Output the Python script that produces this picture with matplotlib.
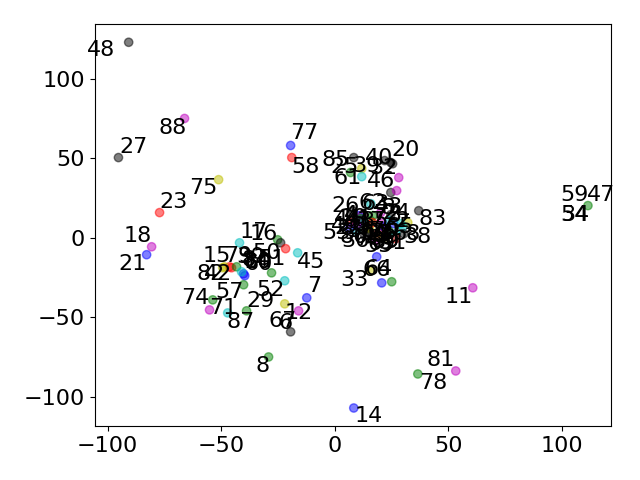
import numpy as np
import matplotlib
matplotlib.use("Agg")
from matplotlib import pyplot as plt

plt.rcParams['font.size'] = 16

# embedding coordinates, one point per id
labels = ['48', '27', '88', '77', '58', '75', '23', '18', '21', '14',
          '78', '81', '11', '59', '47', '34', '54',
          '17', '16', '50', '51', '45', '15', '79', '82', '42', '30',
          '60', '80', '84', '10', '52', '57', '74', '71', '87', '29',
          '12', '7', '6', '67', '8',
          '85', '20', '40', '61', '25', '39', '32', '46', '43', '63',
          '83', '2', '68', '38', '90', '33', '64', '66',
          '26', '62', '3', '5', '44', '41', '49', '36', '13', '19',
          '24', '28', '31', '35', '37', '53', '55', '56', '65', '69',
          '70', '72',
          '0', '1', '4', '9', '22', '73', '76', '86', '89']
x = [-90.7, -95.2, -66.1, -19.4, -18.9, -51.1, -77.1, -80.6, -82.8, 8.4,
     36.6, 53.3, 60.8, 111.5, 111.5, 111.5, 111.5,
     -41.9, -25.1, -23.8, -21.6, -16.3, -46.3, -48.5, -49.3, -45.4, -43.2,
     -39.6, -40.1, -41.0, -27.8, -22.0, -40.1, -53.7, -55.1, -47.1, -38.8,
     -22.0, -12.3, -15.9, -19.4, -29.1,
     8.4, 24.7, 22.0, 7.0, 11.9, 11.9, 25.5, 28.2, 24.7, 27.3,
     37.0, 32.2, 30.0, 30.4, 18.5, 15.9, 20.7, 25.1,
     7.9, 15.9, 20.3, 24.7, 11.9, 16.7, 10.6, 15.4, 12.8, 14.5,
     21.1, 26.0, 19.4, 23.8, 9.7, 7.0, 13.2, 18.1, 22.5, 26.9,
     15.9, 29.1,
     16.7, 21.6, 11.5, 14.1, 9.7, 18.9, 23.8, 6.6, 26.9]
y = [122.9, 50.4, 75.0, 58.0, 50.4, 36.5, 15.8, -5.7, -10.7, -107.1,
     -85.7, -83.8, -31.5, 20.2, 20.2, 20.2, 20.2,
     -3.2, -1.3, -3.2, -6.9, -9.5, -18.3, -18.3, -18.9, -18.9, -18.3,
     -23.9, -22.7, -21.4, -22.1, -27.1, -29.6, -39.1, -45.4, -47.3, -46.0,
     -41.6, -37.8, -46.0, -59.2, -75.0,
     50.4, 47.3, 48.5, 41.0, 43.5, 38.4, 46.5, 37.8, 28.4, 29.6,
     17.0, 9.5, 6.9, 2.5, -12.0, -20.8, -28.4, -27.7,
     17.0, 21.4, 15.8, 14.5, 13.9, 13.9, 13.9, 5.7, 8.8, 6.3,
     9.5, 8.8, 3.2, 4.4, 4.4, 9.5, 1.3, -1.9, 0.6, 2.5,
     10.7, 8.8,
     9.5, 6.9, 12.0, 3.2, 8.2, 0.6, 10.7, 5.7, -0.6]
colors = ['k', 'k', 'm', 'b', 'r', 'y', 'r', 'm', 'b', 'b',
          'g', 'm', 'm', 'g', 'g', 'g', 'g',
          'c', 'g', 'k', 'r', 'c', 'r', 'y', 'y', 'r', 'g',
          'b', 'b', 'c', 'g', 'c', 'g', 'g', 'm', 'c', 'g',
          'y', 'b', 'm', 'k', 'g',
          'k', 'k', 'k', 'g', 'y', 'c', 'k', 'm', 'k', 'm',
          'k', 'y', 'c', 'k', 'b', 'y', 'b', 'g',
          'k', 'c', 'm', 'k', 'r', 'g', 'b', 'y', 'b', 'y',
          'm', 'b', 'r', 'g', 'c', 'r', 'k', 'm', 'y', 'c',
          'g', 'c',
          'r', 'b', 'g', 'k', 'm', 'y', 'c', 'b', 'r']

# where each id text sits relative to its point (pixels)
text_off = [(-28, -8), (15, 11), (-12, -10), (14, 12), (14, -9), (-15, -8), (14, 11),
            (-14, 11), (-14, -9), (15, -8),
            (15, -9), (-15, 11), (-14, -9), (-13, 11), (13, 11), (-13, -9), (-13, -9),
            (14, 11), (-14, 6), (-14, -10), (-14, -10), (13, -9), (-13, 11), (14, 11),
            (-12, -6), (-14, -6), (14, 10),
            (14, 12), (14, 12), (14, 12), (-14, 11), (-14, -9), (-14, -7), (-17, 2),
            (14, 2), (13, -9), (14, 10),
            (14, -9), (7, 12), (-13, -12), (-8, 11), (-6, -9),
            (-18, -2), (15, 12), (-6, 3), (-3, -5), (-17, 2), (5, 11), (-9, -4),
            (-18, -3), (-2, -14), (-21, -13),
            (14, -8), (-5, 2), (4, -7), (14, -3), (9, 16), (-16, -9), (-3, 14), (-15, 12),
            (-7, 5), (2, 1), (8, 5), (4, -1), (-14, -3), (-14, -3), (-14, -10), (-14, -12),
            (14, -10), (-14, 10),
            (14, 10), (-14, -10), (14, -10), (-14, 10), (14, 10), (-14, -10), (14, -10),
            (-14, 10), (14, 10), (-14, -10),
            (14, -10), (-14, 10),
            (-14, -3), (-14, -10), (-10, 4), (14, -3), (-8, -3), (-8, -2), (-6, -12),
            (4, -8), (-10, -3)]

fig, ax = plt.subplots(figsize=(6.4, 4.8), dpi=100)

# several ids share one spot; draw each spot once so alpha does not stack
seen = {}
for xi, yi, ci in zip(x, y, colors):
    seen.setdefault((xi, yi), ci)
px = [k[0] for k in seen]
py = [k[1] for k in seen]
ax.scatter(px, py, c=list(seen.values()), alpha=0.5)

for i, lab in enumerate(labels):
    ax.annotate(lab, (x[i], y[i]), xytext=text_off[i], textcoords='offset pixels',
                ha='center', va='center')

plt.tight_layout()
plt.savefig('out.png')
